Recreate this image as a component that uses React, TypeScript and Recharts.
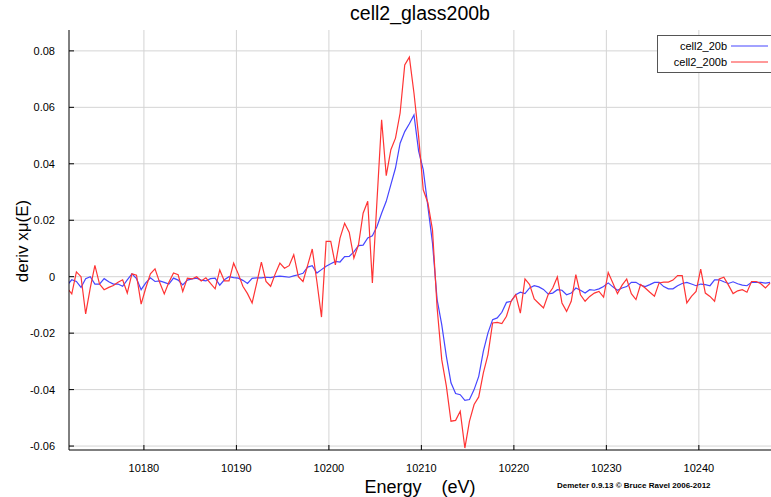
import React from 'react';
import { LineChart, Line, XAxis, YAxis, CartesianGrid, Label } from 'recharts';

// energy grid (eV)
const energy = [
  10171.7, 10172.2, 10172.7, 10173.2, 10173.7, 10174.2, 10174.7, 10175.2, 10175.7, 10176.2,
  10176.7, 10177.2, 10177.7, 10178.2, 10178.7, 10179.2, 10179.7, 10180.2, 10180.7, 10181.2,
  10181.7, 10182.2, 10182.7, 10183.2, 10183.7, 10184.2, 10184.7, 10185.2, 10185.7, 10186.2,
  10186.7, 10187.2, 10187.7, 10188.2, 10188.7, 10189.2, 10189.7, 10190.2, 10190.7, 10191.2,
  10191.7, 10192.2, 10192.7, 10193.2, 10193.7, 10194.2, 10194.7, 10195.2, 10195.7, 10196.2,
  10196.7, 10197.2, 10197.7, 10198.2, 10198.7, 10199.2, 10199.7, 10200.2, 10200.7, 10201.2,
  10201.7, 10202.2, 10202.7, 10203.2, 10203.7, 10204.2, 10204.7, 10205.2, 10205.7, 10206.2,
  10206.7, 10207.2, 10207.7, 10208.2, 10208.7, 10209.2, 10209.7, 10210.2, 10210.7, 10211.2,
  10211.7, 10212.2, 10212.7, 10213.2, 10213.7, 10214.2, 10214.7, 10215.2, 10215.7, 10216.2,
  10216.7, 10217.2, 10217.7, 10218.2, 10218.7, 10219.2, 10219.7, 10220.2, 10220.7, 10221.2,
  10221.7, 10222.2, 10222.7, 10223.2, 10223.7, 10224.2, 10224.7, 10225.2, 10225.7, 10226.2,
  10226.7, 10227.2, 10227.7, 10228.2, 10228.7, 10229.2, 10229.7, 10230.2, 10230.7, 10231.2,
  10231.7, 10232.2, 10232.7, 10233.2, 10233.7, 10234.2, 10234.7, 10235.2, 10235.7, 10236.2,
  10236.7, 10237.2, 10237.7, 10238.2, 10238.7, 10239.2, 10239.7, 10240.2, 10240.7, 10241.2,
  10241.7, 10242.2, 10242.7, 10243.2, 10243.7, 10244.2, 10244.7, 10245.2, 10245.7, 10246.2,
  10246.7, 10247.2, 10247.7,
];

// cell2_20b
const deriv20b = [
  -0.003, -0.0011, -0.0017, -0.0038, -0.0007, 0.0, -0.0026, -0.0026, -0.0007, -0.0018,
  -0.0026, -0.0026, -0.0034, -0.0011, 0.001, -0.0007, -0.0046, -0.0022, -0.0004, -0.0017,
  -0.0015, -0.002, -0.0026, -0.0005, -0.0012, -0.0029, -0.0012, -0.0008, -0.0005, -0.0012,
  -0.0015, -0.0007, -0.0005, -0.003, -0.0011, 0.0, -0.0003, -0.0005, -0.0013, -0.0024,
  -0.0006, -0.0004, -0.0004, -0.0002, -0.0003, 0.0, 0.0002, 0.0, -0.0002, 0.0003,
  0.0007, 0.0012, 0.0034, 0.0039, 0.0013, 0.0025, 0.0037, 0.0046, 0.0054, 0.0052,
  0.0071, 0.0072, 0.0088, 0.011, 0.0112, 0.0137, 0.0145, 0.0178, 0.0225, 0.0267,
  0.0326, 0.0385, 0.0473, 0.0514, 0.0542, 0.0573, 0.0445, 0.0379, 0.0249, 0.0119,
  -0.0081, -0.017, -0.0282, -0.0376, -0.0414, -0.0418, -0.0438, -0.0435, -0.04, -0.0353,
  -0.0264, -0.0199, -0.0152, -0.0146, -0.0126, -0.0091, -0.0087, -0.0064, -0.0055, -0.006,
  -0.004, -0.0032, -0.0036, -0.0045, -0.0061, -0.0058, -0.0046, -0.0048, -0.0064, -0.0058,
  -0.004, -0.0048, -0.0058, -0.0046, -0.0048, -0.0043, -0.0035, -0.0022, -0.0036, -0.0048,
  -0.004, -0.0035, -0.002, -0.002, -0.003, -0.0035, -0.0028, -0.002, -0.002, -0.0035,
  -0.0043, -0.0043, -0.0032, -0.0024, -0.002, -0.0026, -0.0032, -0.0026, -0.0028, -0.0032,
  -0.0011, -0.0011, -0.0018, -0.0024, -0.0018, -0.0025, -0.003, -0.0032, -0.002, -0.002,
  -0.002, -0.0023, -0.002,
];

// cell2_200b
const deriv200b = [
  -0.004, -0.0061, 0.0017, 0.0, -0.0132, -0.004, 0.004, -0.0026, -0.0046, -0.0038,
  -0.0031, -0.002, -0.0011, -0.0058, 0.001, 0.0005, -0.0097, -0.004, 0.001, 0.0028,
  -0.002, -0.0061, -0.002, 0.0013, 0.0007, -0.0052, -0.0005, -0.0008, 0.0, -0.0015,
  -0.0004, -0.0024, -0.0043, 0.0024, -0.0015, -0.0015, 0.0048, 0.001, -0.0034, -0.006,
  -0.0093, -0.0022, 0.0052, -0.0017, -0.0034, 0.001, 0.0048, 0.003, 0.0039, 0.0078,
  0.0, -0.0017, 0.004, 0.0098, -0.0017, -0.0143, 0.0125, 0.0125, 0.0042, 0.0137,
  0.0189, 0.0157, 0.0066, 0.0113, 0.0225, 0.0267, -0.0022, 0.027, 0.0556, 0.0358,
  0.045, 0.0491, 0.058, 0.075, 0.0778, 0.065, 0.0497, 0.0308, 0.0262, 0.0166,
  -0.011, -0.0294, -0.0388, -0.0512, -0.0509, -0.0477, -0.0607, -0.0512, -0.0453, -0.0426,
  -0.0341, -0.0276, -0.0164, -0.0162, -0.0166, -0.014, -0.0087, -0.0064, -0.0129, -0.0008,
  -0.0028, -0.0079, -0.0095, -0.0111, -0.0064, -0.004, -0.0001, -0.0093, -0.0123, -0.0087,
  0.0007, -0.0064, -0.0087, -0.007, -0.0058, -0.0052, -0.0072, 0.0015, -0.0022, -0.006,
  -0.003, -0.0008, -0.006, -0.0081, -0.0028, -0.004, -0.0055, -0.0069, -0.0022, -0.0019,
  -0.0019, -0.0012, 0.0004, 0.0004, -0.0093, -0.007, -0.0052, 0.0027, -0.0058, -0.007,
  -0.0087, -0.0008, -0.0002, -0.003, -0.006, -0.005, -0.0046, -0.0055, -0.0017, -0.0017,
  -0.0025, -0.004, -0.0023,
];

const xTicks = [10180, 10190, 10200, 10210, 10220, 10230, 10240];
const yTicks = [-0.06, -0.04, -0.02, 0, 0.02, 0.04, 0.06, 0.08];

const BLUE = '#4646ff';
const RED = '#ff3434';
const FONT = '"Liberation Sans", Arial, sans-serif';
const X_DOMAIN = [10171.9, 10247.8];

const data = energy.map((e, i) => ({ energy: e, s20b: deriv20b[i], s200b: deriv200b[i] }));

function LegendBox() {
  return (
    <svg width={116} height={39}>
      <rect x={0.5} y={0.5} width={114} height={37} fill="#fff" stroke="#555" />
      <text x={70} y={15} textAnchor="end" fontSize={11} fontFamily={FONT} fill="#000">cell2_20b</text>
      <line x1={74} x2={111} y1={11} y2={11} stroke={BLUE} strokeWidth={1.2} />
      <text x={70} y={31} textAnchor="end" fontSize={11} fontFamily={FONT} fill="#000">cell2_200b</text>
      <line x1={74} x2={111} y1={27} y2={27} stroke={RED} strokeWidth={1.2} />
    </svg>
  );
}

export default function App() {
  return (
    <div style={{ position: 'absolute', left: 0, top: 0, width: 771, height: 497, background: '#fff', fontFamily: FONT }}>
      <div style={{ position: 'absolute', left: 270, top: 2, width: 300, textAlign: 'center', fontSize: 19.5, color: '#000' }}>
        cell2_glass200b
      </div>
      <LineChart width={771} height={497} data={data} margin={{ top: 30, right: 0, bottom: 0, left: 0 }}>
        <CartesianGrid stroke="#d4d4d4" strokeWidth={1} horizontalValues={yTicks} verticalValues={xTicks} />
        <XAxis
          xAxisId="top"
          orientation="top"
          dataKey="energy"
          type="number"
          domain={X_DOMAIN}
          allowDataOverflow
          ticks={xTicks}
          height={0}
          tickSize={-5}
          tick={() => <g />}
          tickLine={{ stroke: '#000' }}
          axisLine={{ stroke: '#000' }}
        />
        <XAxis
          dataKey="energy"
          type="number"
          domain={X_DOMAIN}
          allowDataOverflow
          ticks={xTicks}
          height={47}
          tickSize={-5}
          tickMargin={19}
          tickLine={{ stroke: '#000' }}
          axisLine={{ stroke: '#000' }}
          tick={{ fill: '#000', fontSize: 11, fontFamily: FONT }}
        >
          <Label value={'Energy\u00a0\u00a0\u00a0\u00a0(eV)'} position="insideBottom" offset={4} fontSize={18} fill="#000" fontFamily={FONT} />
        </XAxis>
        <YAxis
          type="number"
          domain={[-0.0614, 0.0874]}
          allowDataOverflow
          ticks={yTicks}
          width={69}
          tickSize={-5}
          tickMargin={19}
          tickLine={{ stroke: '#000' }}
          axisLine={{ stroke: '#000' }}
          tick={{ fill: '#000', fontSize: 11, fontFamily: FONT }}
          tickFormatter={(v: number) => (v === 0 ? '0' : String(Number(v.toFixed(2))))}
        >
          <Label
            content={() => (
              <text x={22} y={241} transform="rotate(-90, 22, 241)" textAnchor="middle" dominantBaseline="central" fontSize={17} fontFamily={FONT} fill="#000">
                deriv xμ(E)
              </text>
            )}
          />
        </YAxis>
        <Line dataKey="s20b" xAxisId={0} stroke={BLUE} strokeWidth={1.2} dot={false} isAnimationActive={false} />
        <Line dataKey="s200b" xAxisId={0} stroke={RED} strokeWidth={1.2} dot={false} isAnimationActive={false} />
      </LineChart>
      <div style={{ position: 'absolute', left: 657, top: 35 }}>
        <LegendBox />
      </div>
      <div style={{ position: 'absolute', left: 557, top: 481, fontSize: 8, fontWeight: 'bold', color: '#000', whiteSpace: 'nowrap' }}>
        Demeter 0.9.13 © Bruce Ravel 2006-2012
      </div>
    </div>
  );
}
